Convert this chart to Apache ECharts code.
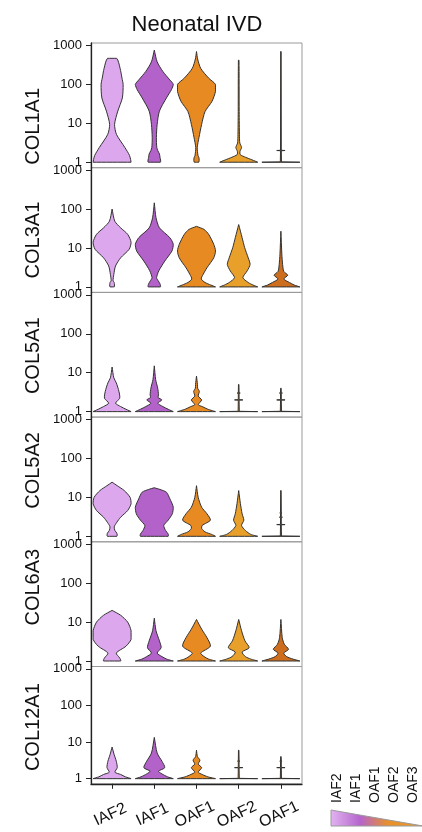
<!DOCTYPE html>
<html><head><meta charset="utf-8">
<script src="https://cdn.jsdelivr.net/npm/echarts@6/dist/echarts.min.js"></script>
<style>html,body{margin:0;padding:0;background:#fff}#c{width:422px;height:832px}</style>
</head><body><div id="c"></div>
<script>
const chartTitle = 'Neonatal IVD';
const categories = ['IAF2', 'IAF1', 'OAF1', 'OAF2', 'OAF1'];
const legendLabels = ['IAF2', 'IAF1', 'OAF1', 'OAF2', 'OAF3'];
const genes = ['COL1A1', 'COL3A1', 'COL5A1', 'COL5A2', 'COL6A3', 'COL12A1'];
const yTicks = [1, 10, 100, 1000];
const colors = ['#dca7ec', '#b362c9', '#e88a22', '#e8a02a', '#cd6d1e'];

// violin profiles per gene: for each cell type a list of [expression, relative width]
const COL1A1 = [
  [[1,1],[1.48,0.92],[2.4,0.67],[5.2,0.23],[9.4,0.13],[20.6,0.3],[45,0.54],[100,0.58],[145,0.52],[260,0.42],[468,0.24]],
  [[1,0.32],[1.34,0.3],[1.63,0.27],[2,0.18],[2.4,0.13],[4.3,0.11],[9.4,0.15],[20.6,0.27],[45,0.64],[73,0.9],[100,1],[130,0.82],[215,0.45],[380,0.15],[760,0]],
  [[1,0.12],[1.3,0.13],[1.48,0.08],[2.4,0.04],[4.3,0.13],[9.4,0.27],[20,0.45],[37,0.82],[66,1],[100,1],[145,0.64],[260,0.22],[450,0.06],[700,0]],
  [[1,1],[1.15,0.7],[1.34,0.36],[1.57,0.08],[1.9,0.07],[2.4,0.15],[3.1,0.06],[4.5,0.04],[20,0.025],[420,0.015]],
  [[1,1],[1.02,0.03],[1.97,0.02],[2,0.22],[2.03,0.02],[700,0.012]]
];
const COL3A1 = [
  [[1,0.11],[1.3,0.11],[1.43,0.05],[2.1,0.09],[3.45,0.18],[5.6,0.45],[9.3,0.9],[14,1],[22.5,0.82],[33,0.45],[49,0.14],[100,0]],
  [[1,0.32],[1.2,0.3],[1.45,0.2],[1.73,0.12],[2.6,0.24],[4.6,0.55],[8.4,0.93],[12.4,1],[18.4,0.82],[33,0.27],[60,0.09],[145,0]],
  [[1,1],[1.12,0.75],[1.3,0.45],[1.6,0.25],[2.1,0.35],[3.1,0.55],[5.6,0.91],[8.4,1],[12.4,0.91],[22.5,0.64],[30,0.4],[36,0]],
  [[1,1],[1.12,0.75],[1.3,0.5],[1.73,0.22],[2.6,0.45],[3.8,0.6],[5.6,0.5],[10.4,0.31],[18.4,0.18],[40,0]],
  [[1,1],[1.12,0.7],[1.3,0.45],[1.6,0.15],[2,0.36],[2.5,0.15],[3.8,0.09],[6.9,0.05],[27,0]]
];
const COL5A1 = [
  [[1,1],[1.15,0.73],[1.35,0.45],[1.65,0.18],[2.2,0.4],[3.3,0.36],[5.5,0.22],[7.4,0.09],[14,0]],
  [[1,1],[1.15,0.73],[1.35,0.45],[1.65,0.18],[2,0.4],[2.3,0.2],[2.7,0.22],[4,0.18],[6.7,0.07],[15,0]],
  [[1,1],[1.15,0.6],[1.35,0.3],[1.5,0.09],[2,0.27],[2.5,0.09],[3.3,0.15],[4,0.06],[5,0.05],[8.2,0]],
  [[1,1],[1.02,0.03],[1.97,0.02],[2,0.22],[2.03,0.02],[2.96,0.02],[3,0.08],[3.04,0.02],[5,0.012]],
  [[1,1],[1.02,0.03],[1.97,0.02],[2,0.22],[2.03,0.02],[2.96,0.02],[3,0.08],[3.04,0.02],[4,0.012]]
];
const COL5A2 = [
  [[1,0.25],[1.2,0.25],[1.4,0.15],[1.75,0.11],[2.3,0.25],[3.1,0.45],[4.6,0.82],[6.9,1],[10,0.95],[15,0.64],[20,0.27],[24.6,0]],
  [[1,0.73],[1.15,0.73],[1.4,0.6],[1.9,0.5],[2.6,0.73],[3.8,0.95],[5.6,1],[9.2,0.82],[13.6,0.64],[16,0.3],[17.7,0]],
  [[1,1],[1.12,0.8],[1.3,0.45],[1.6,0.27],[1.9,0.3],[2.6,0.73],[3.8,0.55],[5.6,0.27],[10,0.09],[20,0]],
  [[1,1],[1.12,0.64],[1.4,0.36],[1.9,0.15],[2.6,0.27],[3.8,0.18],[6.9,0.09],[15,0]],
  [[1,1],[1.02,0.03],[1.97,0.02],[2,0.22],[2.03,0.02],[3.05,0.02],[3.1,0.08],[3.15,0.02],[3.95,0.02],[4,0.06],[4.05,0.02],[15,0.012]]
];
const COL6A3 = [
  [[1,0.45],[1.2,0.4],[1.6,0.22],[2.4,0.73],[3.6,1],[6,1],[10,0.82],[15,0.45],[20,0]],
  [[1,1],[1.12,0.65],[1.3,0.4],[1.6,0.15],[2.2,0.36],[3.3,0.27],[6,0.09],[12.6,0]],
  [[1,1],[1.12,0.64],[1.3,0.4],[1.6,0.22],[2.4,0.73],[4,0.55],[6.6,0.27],[11.7,0]],
  [[1,1],[1.12,0.64],[1.3,0.35],[1.7,0.18],[2.2,0.55],[3.3,0.33],[6,0.15],[11.7,0]],
  [[1,1],[1.12,0.64],[1.3,0.3],[1.6,0.15],[2,0.4],[2.7,0.18],[4,0.07],[11.7,0]]
];
const COL12A1 = [
  [[1,1],[1.12,0.7],[1.3,0.45],[1.5,0.15],[2,0.27],[3,0.22],[4.5,0.11],[7.3,0]],
  [[1,1],[1.12,0.7],[1.35,0.4],[1.6,0.22],[2,0.55],[3,0.4],[5,0.15],[13.4,0]],
  [[1,1],[1.12,0.6],[1.3,0.3],[1.5,0.09],[2,0.27],[2.5,0.09],[3.2,0.18],[4,0.05],[6,0]],
  [[1,1],[1.02,0.03],[1.97,0.02],[2,0.22],[2.03,0.02],[2.96,0.02],[3,0.06],[3.04,0.02],[6,0.012]],
  [[1,1],[1.02,0.03],[1.97,0.02],[2,0.22],[2.03,0.02],[2.96,0.02],[3,0.06],[3.04,0.02],[4,0.012]]
];
const profiles = [COL1A1, COL3A1, COL5A1, COL5A2, COL6A3, COL12A1];

const FONT = '"Liberation Sans", Arial, Helvetica, sans-serif';
const gridTop = 43, panelH = 124.7, gridLeft = 91, gridW = 211;
// vertical shift of each gene name (px, + = down)
const nameShift = [21, 10, 1, -9, -17, 2];

function hasCrossbar(prof) {
  for (let k = 2; k < prof.length; k++) {
    if (prof[k][0] / prof[k - 1][0] < 1.05) return true;
  }
  return false;
}

function renderItem(params, api) {
  const gi = params.seriesIndex;
  const ci = api.value(0);
  const prof = profiles[gi][ci];
  const band = api.size([1, 1])[0];
  const half = band * 0.45;
  const right = [], left = [];
  prof.forEach(([v, w]) => {
    const p = api.coord([ci, v]);
    right.push([p[0] + w * half, p[1]]);
    left.push([p[0] - w * half, p[1]]);
  });
  const pts = right.concat(left.reverse());
  let x0 = Infinity, y0 = Infinity, x1 = -Infinity, y1 = -Infinity;
  pts.forEach(p => { x0 = Math.min(x0, p[0]); x1 = Math.max(x1, p[0]); y0 = Math.min(y0, p[1]); y1 = Math.max(y1, p[1]); });
  const sharp = hasCrossbar(prof);
  const shape = { points: pts };
  if (!sharp) { shape.smooth = 0.25; shape.smoothConstraint = [[x0, y0], [x1, y1]]; }
  return {
    type: 'polygon',
    shape,
    style: { fill: colors[ci], stroke: '#333', lineWidth: 1 }
  };
}

const grids = [], xAxes = [], yAxes = [], series = [];
genes.forEach((g, i) => {
  const last = i === genes.length - 1;
  const s = nameShift[i];
  grids.push({ left: gridLeft, width: gridW, top: gridTop + i * panelH, height: panelH,
    show: true, borderColor: '#9a9a9a', borderWidth: 1, backgroundColor: 'transparent' });
  xAxes.push({
    type: 'category', gridIndex: i, data: categories, boundaryGap: true,
    axisLine: { show: last, lineStyle: { color: '#222', width: 1.3 } },
    axisTick: { show: last, alignWithLabel: true, length: 5, lineStyle: { color: '#222' } },
    axisLabel: last ? { show: true, rotate: 25, align: 'center', verticalAlign: 'middle', margin: 30,
      padding: [0, 4, 0, 0], fontSize: 16, color: '#111', fontFamily: FONT, interval: 0 } : { show: false },
    splitLine: { show: false }
  });
  yAxes.push({
    type: 'log', logBase: 10, gridIndex: i, min: 0.723, max: 1159,
    name: g, nameLocation: 'middle', nameGap: 48,
    nameTextStyle: { fontSize: 20, color: '#111', fontFamily: FONT,
      padding: s >= 0 ? [0, 2 * s, 0, 0] : [0, 0, 0, -2 * s] },
    axisLine: { show: true, lineStyle: { color: '#222', width: 1.3 } },
    axisTick: { show: true, length: 5, customValues: yTicks, lineStyle: { color: '#222' } },
    axisLabel: { customValues: yTicks, fontSize: 13, color: '#111', fontFamily: FONT, margin: 9,
      formatter: v => String(Math.round(v)) },
    splitLine: { show: false }
  });
  series.push({
    type: 'custom', xAxisIndex: i, yAxisIndex: i, renderItem,
    encode: { x: 0, y: 1 },
    data: categories.map((c, k) => [k, 1]),
    silent: true, animation: false
  });
});

const legendGraphics = legendLabels.map((t, i) => ({
  type: 'text', x: 337.5 + i * 19, y: 803, rotation: Math.PI / 2,
  style: { text: t, font: '14px ' + FONT, fill: '#111', align: 'left', verticalAlign: 'middle' }
}));
legendGraphics.push({
  type: 'polygon',
  shape: { points: [[331, 810], [423, 826], [331, 826]] },
  style: {
    fill: { type: 'linear', x: 0, y: 0, x2: 1, y2: 0, colorStops: [
      { offset: 0, color: '#e2b4f2' }, { offset: 0.32, color: '#b565cc' },
      { offset: 0.62, color: '#e8902a' }, { offset: 1, color: '#ea9a2a' }] },
    stroke: '#9a9a9a', lineWidth: 1
  }
});

const chart = echarts.init(document.getElementById('c'), null, { renderer: 'canvas' });
chart.setOption({
  animation: false,
  backgroundColor: '#fff',
  title: { text: chartTitle, left: 192, top: 9, textAlign: 'center',
    textStyle: { fontSize: 22, fontWeight: 'normal', color: '#111', fontFamily: FONT } },
  grid: grids, xAxis: xAxes, yAxis: yAxes, series,
  graphic: legendGraphics
});
</script></body></html>
